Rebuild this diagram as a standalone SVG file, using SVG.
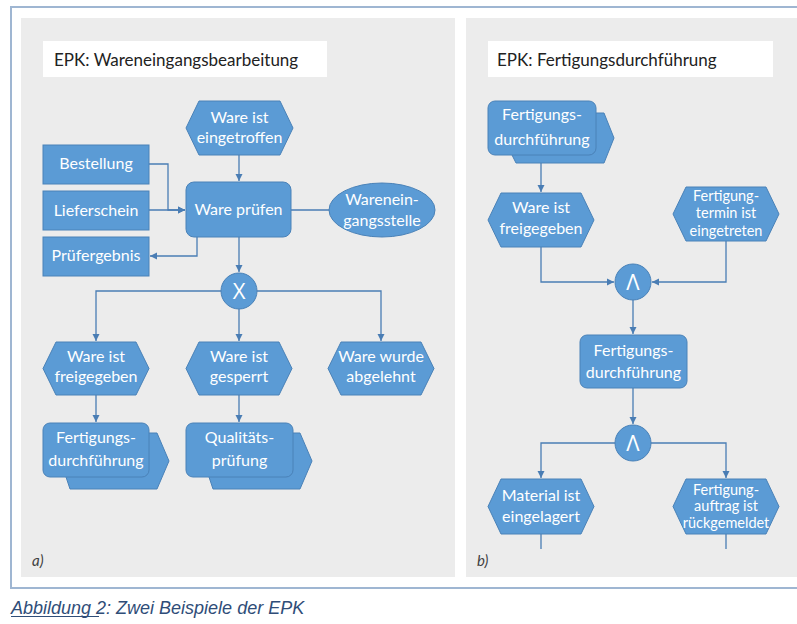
<svg xmlns="http://www.w3.org/2000/svg" width="797" height="624" viewBox="0 0 797 624">
<style>
.node{fill:#5b9bd5;stroke:#4a82b8;stroke-width:1}
.t{font-family:Lato,"Open Sans",sans-serif;font-size:16px;fill:#ffffff;text-anchor:middle}
.t3{font-family:Lato,"Open Sans",sans-serif;font-size:14.5px;fill:#ffffff;text-anchor:middle}
.op{font-family:"Open Sans",Lato,sans-serif;font-size:22px;fill:#ffffff;text-anchor:middle}
.title{font-family:Lato,"Open Sans",sans-serif;font-size:17px;fill:#222222}
.lbl{font-family:Lato,"Open Sans",sans-serif;font-size:15px;font-style:italic;fill:#404040}
.cap{font-family:"Liberation Sans",Arial,sans-serif;font-size:18px;font-style:italic;fill:#2f4d78}
.conn path{fill:none;stroke:#4a7db4;stroke-width:1.3}
</style>
<defs>
<marker id="ah" markerWidth="8" markerHeight="8" refX="7" refY="4" orient="auto" markerUnits="userSpaceOnUse">
<path d="M0,0.5 L7,4 L0,7.5 Z" fill="#4a7db4"/>
</marker>
</defs>
<rect x="0" y="0" width="797" height="624" fill="#ffffff"/>
<rect x="11" y="7" width="800" height="581" fill="#ffffff" stroke="#9fb6d2" stroke-width="2"/>
<rect x="21" y="18" width="434" height="559" fill="#ececec"/>
<rect x="466" y="18" width="340" height="559" fill="#ececec"/>

<g id="title-a"><rect x="43" y="41" width="284" height="36" fill="#ffffff"/><text class="title" x="54" y="66">EPK: Wareneingangsbearbeitung</text></g>
<g id="title-b"><rect x="488" y="41" width="285" height="36" fill="#ffffff"/><text class="title" x="497" y="66">EPK: Fertigungsdurchführung</text></g>

<g class="conn" id="connectors">
<path d="M239,155 V181" marker-end="url(#ah)"/>
<path d="M149,164 H168 V210 H185" marker-end="url(#ah)"/>
<path d="M149,210 H185" marker-end="url(#ah)"/>
<path d="M197,237 V256 H150" marker-end="url(#ah)"/>
<path d="M291,210 H329"/>
<path d="M239,237 V272" marker-end="url(#ah)"/>
<path d="M221,291 H96 V341" marker-end="url(#ah)"/>
<path d="M257,291 H381 V341" marker-end="url(#ah)"/>
<path d="M239,309 V341" marker-end="url(#ah)"/>
<path d="M96,395 V422" marker-end="url(#ah)"/>
<path d="M239,395 V422" marker-end="url(#ah)"/>
<path d="M541,155 V192" marker-end="url(#ah)"/>
<path d="M541,247 V282 H614" marker-end="url(#ah)"/>
<path d="M726,241 V282 H652" marker-end="url(#ah)"/>
<path d="M633,300 V334" marker-end="url(#ah)"/>
<path d="M633,388 V424" marker-end="url(#ah)"/>
<path d="M615,443 H541 V478" marker-end="url(#ah)"/>
<path d="M651,443 H726 V478" marker-end="url(#ah)"/>
<path d="M541,534 V549"/>
<path d="M726,534 V549"/>
</g>

<g id="ev-eingetroffen"><polygon class="node" points="186,128 199,101 280,101 293,128 280,155 199,155"/><text class="t" x="239.5" y="123">Ware ist</text><text class="t" x="239.5" y="143">eingetroffen</text></g>
<g id="ware-pruefen"><rect class="node" x="186" y="182" width="105" height="55" rx="8"/><text class="t" x="238.5" y="215">Ware prüfen</text></g>
<g id="bestellung"><rect class="node" x="43" y="145" width="106" height="39"/><text class="t" x="96" y="169">Bestellung</text></g>
<g id="lieferschein"><rect class="node" x="43" y="191" width="106" height="39"/><text class="t" x="96" y="216">Lieferschein</text></g>
<g id="pruefergebnis"><rect class="node" x="43" y="237" width="106" height="39"/><text class="t" x="96" y="261">Prüfergebnis</text></g>
<g id="wareneingangsstelle"><ellipse class="node" cx="382" cy="210" rx="53" ry="27"/><text class="t" x="382" y="205">Warenein-</text><text class="t" x="382" y="226">gangsstelle</text></g>
<g id="xor"><circle class="node" cx="239" cy="291" r="18"/><text class="op" x="239" y="299">X</text></g>
<g id="ev-freigegeben-a"><polygon class="node" points="43,368.5 56,342 136,342 149,368.5 136,395 56,395"/><text class="t" x="96" y="362">Ware ist</text><text class="t" x="96" y="382">freigegeben</text></g>
<g id="ev-gesperrt"><polygon class="node" points="186,368.5 199,342 279,342 292,368.5 279,395 199,395"/><text class="t" x="239" y="362">Ware ist</text><text class="t" x="239" y="382">gesperrt</text></g>
<g id="ev-abgelehnt"><polygon class="node" points="328,368.5 341,342 421,342 434,368.5 421,395 341,395"/><text class="t" x="381" y="362">Ware wurde</text><text class="t" x="381" y="382">abgelehnt</text></g>
<g id="pp-fertigung-a"><polygon class="node" points="60,433 157,433 169,461 157,489 70,489 66,477"/><rect class="node" x="43" y="423" width="106" height="54" rx="7"/><text class="t" x="96" y="443">Fertigungs-</text><text class="t" x="96" y="466">durchführung</text></g>
<g id="pp-qualitaet"><polygon class="node" points="203,433 300,433 312,461 300,489 213,489 209,477"/><rect class="node" x="186" y="423" width="107" height="54" rx="7"/><text class="t" x="239.5" y="443">Qualitäts-</text><text class="t" x="239.5" y="466">prüfung</text></g>

<g id="pp-fertigung-b"><polygon class="node" points="505,113 604,113 614,138 604,163 516,163 512,155"/><rect class="node" x="488" y="101" width="108" height="54" rx="7"/><text class="t" x="542" y="120">Fertigungs-</text><text class="t" x="542" y="145">durchführung</text></g>
<g id="ev-freigegeben-b"><polygon class="node" points="488,220 501,193 581,193 594,220 581,247 501,247"/><text class="t" x="541" y="213">Ware ist</text><text class="t" x="541" y="234">freigegeben</text></g>
<g id="ev-termin"><polygon class="node" points="673,214 686,187 766,187 779,214 766,241 686,241"/><text class="t3" x="726" y="201">Fertigung-</text><text class="t3" x="726" y="218">termin ist</text><text class="t3" x="726" y="236">eingetreten</text></g>
<g id="and1"><circle class="node" cx="633" cy="282" r="18"/><text class="op" x="633" y="290">Λ</text></g>
<g id="fn-fertigung"><rect class="node" x="580" y="335" width="107" height="53" rx="7"/><text class="t" x="633.5" y="356">Fertigungs-</text><text class="t" x="633.5" y="378">durchführung</text></g>
<g id="and2"><circle class="node" cx="633" cy="443" r="18"/><text class="op" x="633" y="451">Λ</text></g>
<g id="ev-material"><polygon class="node" points="488,506.5 501,479 581,479 594,506.5 581,534 501,534"/><text class="t" x="541" y="501">Material ist</text><text class="t" x="541" y="522">eingelagert</text></g>
<g id="ev-rueckgemeldet"><polygon class="node" points="673,506.5 686,479 766,479 779,506.5 766,534 686,534"/><text class="t3" x="726" y="495">Fertigung-</text><text class="t3" x="726" y="511">auftrag ist</text><text class="t3" x="726" y="528">rückgemeldet</text></g>

<text class="lbl" x="32" y="566">a)</text>
<text class="lbl" x="477" y="566">b)</text>
<text class="cap" x="11" y="614">Abbildung 2: Zwei Beispiele der EPK</text>
<line x1="11" y1="616.5" x2="99" y2="616.5" stroke="#2f4d78" stroke-width="1"/>
</svg>
